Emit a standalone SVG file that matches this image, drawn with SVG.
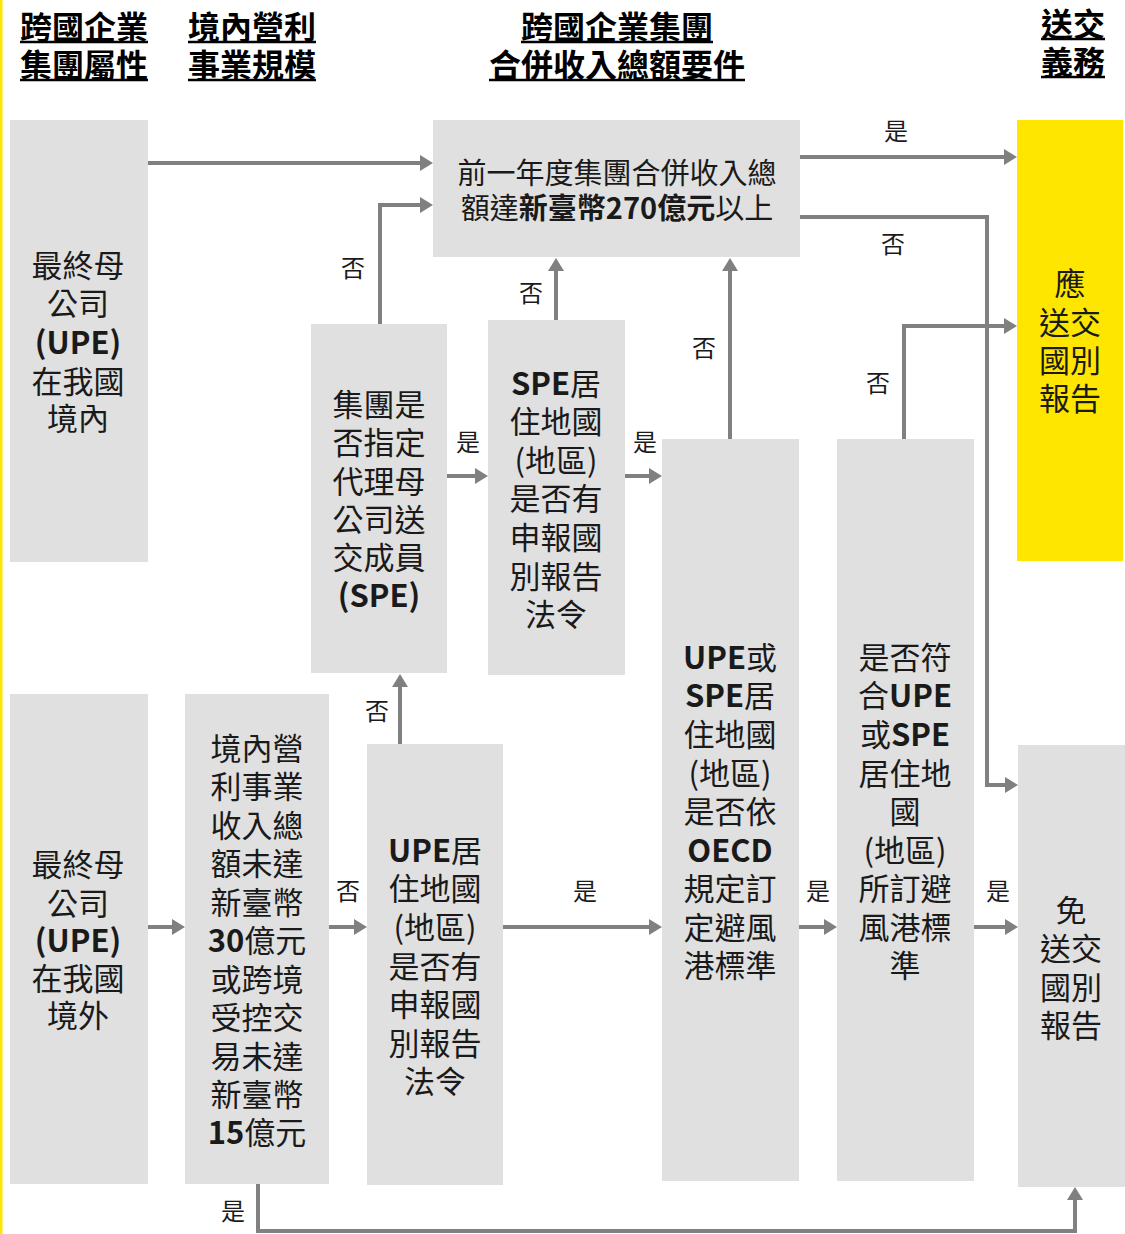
<svg xmlns="http://www.w3.org/2000/svg" width="1125" height="1234" viewBox="0 0 1125 1234">
<defs>
<marker id="ah" markerUnits="userSpaceOnUse" markerWidth="14" markerHeight="18" viewBox="0 -9 14 18" refX="0" refY="0" orient="auto">
<path d="M0,-8 L13,0 L0,8 z" fill="#808080"/>
</marker>
<style>
.box{fill:#e0e0e0}
.yel{fill:#ffe600}
.t{font-family:"Noto Sans CJK TC","Noto Sans CJK SC",sans-serif;font-size:31px;fill:#1a1a1a;text-anchor:middle;dominant-baseline:central}
.tt{font-family:"Noto Sans CJK TC","Noto Sans CJK SC",sans-serif;font-size:29px;fill:#1a1a1a;text-anchor:middle;dominant-baseline:central}
.h{font-family:"Noto Sans CJK TC","Noto Sans CJK SC",sans-serif;font-size:32px;font-weight:bold;fill:#000;text-anchor:middle;dominant-baseline:central}
.l{font-family:"Noto Sans CJK TC","Noto Sans CJK SC",sans-serif;font-size:24px;fill:#1a1a1a;text-anchor:middle;dominant-baseline:central}
.b{font-weight:bold}
.ul{stroke:#000;stroke-width:2.5}
.c{fill:none;stroke:#808080;stroke-width:4;marker-end:url(#ah)}
</style>
</defs>
<rect width="1125" height="1234" fill="#ffffff"/>
<rect x="0" y="0" width="2.5" height="1234" fill="#ffe600"/>

<g id="headers">
<text class="h"><tspan x="84" y="25">跨國企業</tspan><tspan x="84" y="63">集團屬性</tspan></text>
<line class="ul" x1="20" y1="42" x2="148" y2="42"/>
<line class="ul" x1="20" y1="80" x2="148" y2="80"/>
<text class="h"><tspan x="252" y="25">境內營利</tspan><tspan x="252" y="63">事業規模</tspan></text>
<line class="ul" x1="188" y1="42" x2="316" y2="42"/>
<line class="ul" x1="188" y1="80" x2="316" y2="80"/>
<text class="h"><tspan x="617" y="25">跨國企業集團</tspan><tspan x="617" y="63">合併收入總額要件</tspan></text>
<line class="ul" x1="521" y1="42" x2="713" y2="42"/>
<line class="ul" x1="489" y1="80" x2="745" y2="80"/>
<text class="h"><tspan x="1073" y="22">送交</tspan><tspan x="1073" y="60">義務</tspan></text>
<line class="ul" x1="1041" y1="39" x2="1105" y2="39"/>
<line class="ul" x1="1041" y1="77" x2="1105" y2="77"/>
</g>

<g id="connectors">
<path class="c" d="M148,163 H420"/>
<path class="c" d="M380,324 V205 H420"/>
<path class="c" d="M556,320 V271"/>
<path class="c" d="M730,439 V271"/>
<path class="c" d="M800,157 H1004"/>
<path class="c" d="M800,217 H987 V785 H1005"/>
<path class="c" d="M904,439 V326 H1004"/>
<path class="c" d="M447,476 H475"/>
<path class="c" d="M625,476 H649"/>
<path class="c" d="M148,927 H172"/>
<path class="c" d="M329,927 H354"/>
<path class="c" d="M400,744 V687"/>
<path class="c" d="M503,927 H649"/>
<path class="c" d="M799,927 H824"/>
<path class="c" d="M974,927 H1005"/>
<path class="c" d="M258,1184 V1231 H1075 V1200"/>
<text class="l" x="353" y="266">否</text>
<text class="l" x="531" y="291">否</text>
<text class="l" x="704" y="346">否</text>
<text class="l" x="896" y="129">是</text>
<text class="l" x="893" y="242">否</text>
<text class="l" x="878" y="381">否</text>
<text class="l" x="468" y="440">是</text>
<text class="l" x="645" y="440">是</text>
<text class="l" x="348" y="889">否</text>
<text class="l" x="377" y="709">否</text>
<text class="l" x="585" y="889">是</text>
<text class="l" x="818" y="889">是</text>
<text class="l" x="998" y="889">是</text>
<text class="l" x="233" y="1209">是</text>
</g>

<g id="upe-domestic">
<rect class="box" x="10" y="120" width="138" height="442"/>
<text class="t"><tspan x="78" y="263">最終母</tspan><tspan x="78" y="301">公司</tspan><tspan x="78" y="340" class="b">(UPE)</tspan><tspan x="78" y="379">在我國</tspan><tspan x="78" y="416">境內</tspan></text>
</g>

<g id="revenue-threshold">
<rect class="box" x="433" y="120" width="367" height="137"/>
<text class="tt"><tspan x="617" y="171">前一年度集團合併收入總</tspan><tspan x="617" y="206">額達<tspan class="b">新臺幣270億元</tspan>以上</tspan></text>
</g>

<g id="must-file">
<rect class="yel" x="1017" y="120" width="106" height="441"/>
<text class="t"><tspan x="1070" y="281">應</tspan><tspan x="1070" y="320">送交</tspan><tspan x="1070" y="358">國別</tspan><tspan x="1070" y="396">報告</tspan></text>
</g>

<g id="spe-designated">
<rect class="box" x="311" y="324" width="136" height="349"/>
<text class="t"><tspan x="379" y="402">集團是</tspan><tspan x="379" y="440">否指定</tspan><tspan x="379" y="479">代理母</tspan><tspan x="379" y="517">公司送</tspan><tspan x="379" y="555">交成員</tspan><tspan x="379" y="593" class="b">(SPE)</tspan></text>
</g>

<g id="spe-resident-law">
<rect class="box" x="488" y="320" width="137" height="355"/>
<text class="t"><tspan x="556" y="381"><tspan class="b">SPE</tspan>居</tspan><tspan x="556" y="419">住地國</tspan><tspan x="556" y="458">(地區)</tspan><tspan x="556" y="496">是否有</tspan><tspan x="556" y="535">申報國</tspan><tspan x="556" y="574">別報告</tspan><tspan x="556" y="612">法令</tspan></text>
</g>

<g id="oecd-safe-harbor">
<rect class="box" x="662" y="439" width="137" height="742"/>
<text class="t"><tspan x="730" y="655"><tspan class="b">UPE</tspan>或</tspan><tspan x="730" y="693"><tspan class="b">SPE</tspan>居</tspan><tspan x="730" y="732">住地國</tspan><tspan x="730" y="771">(地區)</tspan><tspan x="730" y="809">是否依</tspan><tspan x="730" y="848" class="b">OECD</tspan><tspan x="730" y="886">規定訂</tspan><tspan x="730" y="925">定避風</tspan><tspan x="730" y="963">港標準</tspan></text>
</g>

<g id="meets-safe-harbor">
<rect class="box" x="837" y="439" width="137" height="742"/>
<text class="t"><tspan x="905" y="655">是否符</tspan><tspan x="905" y="693">合<tspan class="b">UPE</tspan></tspan><tspan x="905" y="732">或<tspan class="b">SPE</tspan></tspan><tspan x="905" y="771">居住地</tspan><tspan x="905" y="809">國</tspan><tspan x="905" y="848">(地區)</tspan><tspan x="905" y="886">所訂避</tspan><tspan x="905" y="925">風港標</tspan><tspan x="905" y="963">準</tspan></text>
</g>

<g id="exempt">
<rect class="box" x="1018" y="745" width="107" height="442"/>
<text class="t"><tspan x="1071" y="908">免</tspan><tspan x="1071" y="946">送交</tspan><tspan x="1071" y="985">國別</tspan><tspan x="1071" y="1023">報告</tspan></text>
</g>

<g id="upe-foreign">
<rect class="box" x="10" y="694" width="138" height="490"/>
<text class="t"><tspan x="78" y="862">最終母</tspan><tspan x="78" y="901">公司</tspan><tspan x="78" y="938" class="b">(UPE)</tspan><tspan x="78" y="976">在我國</tspan><tspan x="78" y="1013">境外</tspan></text>
</g>

<g id="domestic-revenue">
<rect class="box" x="185" y="694" width="144" height="490"/>
<text class="t"><tspan x="257" y="746">境內營</tspan><tspan x="257" y="784">利事業</tspan><tspan x="257" y="823">收入總</tspan><tspan x="257" y="861">額未達</tspan><tspan x="257" y="900">新臺幣</tspan><tspan x="257" y="938"><tspan class="b">30</tspan>億元</tspan><tspan x="257" y="977">或跨境</tspan><tspan x="257" y="1015">受控交</tspan><tspan x="257" y="1054">易未達</tspan><tspan x="257" y="1092">新臺幣</tspan><tspan x="257" y="1130"><tspan class="b">15</tspan>億元</tspan></text>
</g>

<g id="upe-resident-law">
<rect class="box" x="367" y="744" width="136" height="441"/>
<text class="t"><tspan x="435" y="848"><tspan class="b">UPE</tspan>居</tspan><tspan x="435" y="886">住地國</tspan><tspan x="435" y="925">(地區)</tspan><tspan x="435" y="964">是否有</tspan><tspan x="435" y="1002">申報國</tspan><tspan x="435" y="1041">別報告</tspan><tspan x="435" y="1079">法令</tspan></text>
</g>
</svg>
